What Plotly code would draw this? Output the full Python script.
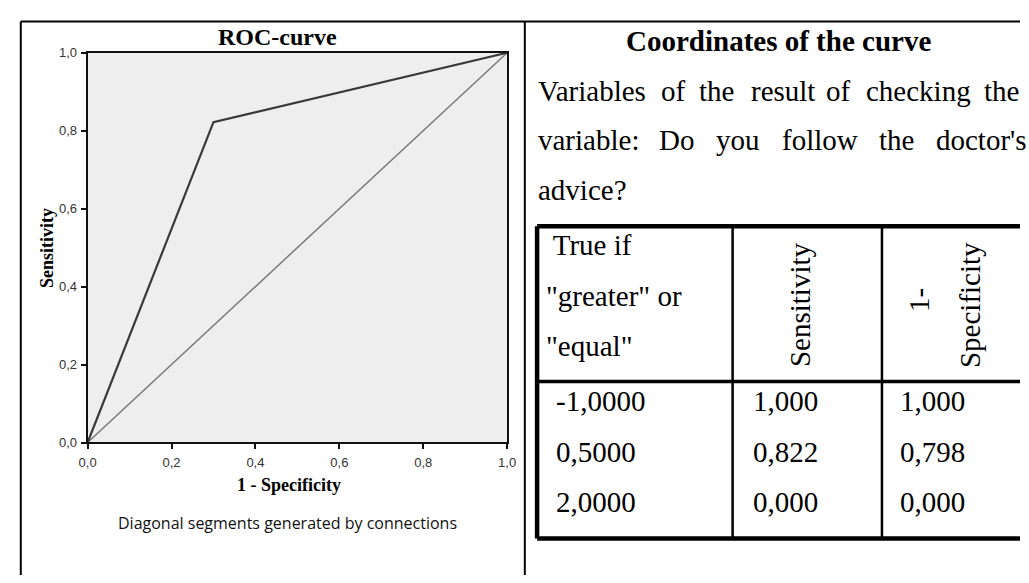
import plotly.graph_objects as go

# ---------------- data ----------------
roc_fpr = [0.0, 0.30, 1.0]          # 1 - Specificity
roc_tpr = [0.0, 0.822, 1.0]         # Sensitivity
diag_x = [0.0, 1.0]
diag_y = [0.0, 1.0]

tick_vals = [0.0, 0.2, 0.4, 0.6, 0.8, 1.0]
tick_text = ["0,0", "0,2", "0,4", "0,6", "0,8", "1,0"]

thresholds = [-1.0, 0.5, 2.0]
sensitivity = [1.000, 0.822, 0.000]
one_minus_spec = [1.000, 0.798, 0.000]

title_left = "ROC-curve"
x_title = "1 - Specificity"
y_title = "Sensitivity"
footnote = "Diagonal segments generated by connections"
title_right = "Coordinates of the curve"
para_lines = [
    ["Variables", "of", "the", "result", "of", "checking", "the"],
    ["variable:", "Do", "you", "follow", "the", "doctor's"],
    ["advice?"],
]
header_col1 = [" True if", "\"greater\" or", "\"equal\""]
header_col2 = "Sensitivity"
header_col3 = ["1-", "Specificity"]

# ---------------- layout helpers ----------------
W, H = 1029, 583
SERIF = "Liberation Serif"
SANS = "Liberation Sans"


def fx(x):
    return x / W


def fy(y):
    return 1 - y / H


def fmt(v, d):
    return f"{v:.{d}f}".replace(".", ",")


fig = go.Figure()
fig.add_trace(go.Scatter(x=diag_x, y=diag_y, mode="lines",
                         line=dict(color="#7a7a7a", width=1.5),
                         hoverinfo="skip", showlegend=False))
fig.add_trace(go.Scatter(x=roc_fpr, y=roc_tpr, mode="lines",
                         line=dict(color="#3a3a3a", width=2.2),
                         showlegend=False))

axis_common = dict(range=[0, 1], tickvals=tick_vals, ticktext=tick_text,
                   showline=True, linecolor="#111", linewidth=2, mirror=True,
                   ticks="outside", ticklen=5, tickwidth=2, tickcolor="#111",
                   showgrid=False, zeroline=False,
                   tickfont=dict(family=SANS, size=13, color="#333"))

fig.update_layout(
    width=W, height=H,
    margin=dict(l=0, r=0, t=0, b=0),
    paper_bgcolor="white",
    plot_bgcolor="#eeeeee",
    xaxis=dict(domain=[fx(80), fx(507)], ticklabelstandoff=2, **axis_common),
    yaxis=dict(domain=[fy(447), fy(47)], ticklabelstandoff=1, **axis_common),
)

shapes = []


def hline(x0, x1, y, w):
    shapes.append(dict(type="line", xref="paper", yref="paper",
                       x0=fx(x0), x1=fx(x1), y0=fy(y), y1=fy(y),
                       line=dict(color="black", width=w)))


def vline(x, y0, y1, w):
    shapes.append(dict(type="line", xref="paper", yref="paper",
                       x0=fx(x), x1=fx(x), y0=fy(y0), y1=fy(y1),
                       line=dict(color="black", width=w)))


# outer frame
hline(12, 1029, 15, 2)
vline(12, 15, 583, 2)
vline(525, 15, 583, 2)

# table grid
hline(537.5, 1029, 225, 4.5)
vline(537.5, 225, 545.5, 4.5)
hline(537.5, 1029, 545.5, 4.5)
hline(537.5, 1029, 384.5, 3.5)
vline(736.5, 225, 545.5, 2.5)
vline(888.5, 225, 545.5, 2.5)

fig.update_layout(shapes=shapes)

ann = []


def text(t, x, y, size, family=SERIF, bold=False, xanchor="center", angle=0, color="black"):
    if bold:
        t = f"<b>{t}</b>"
    ann.append(dict(text=t, x=fx(x), y=fy(y), xref="paper", yref="paper",
                    xanchor=xanchor, yanchor="middle", showarrow=False,
                    textangle=angle, borderpad=0, borderwidth=0,
                    font=dict(family=family, size=size, color=color)))


# left panel texts
text(title_left, 273, 30.5, 24, bold=True)
text(x_title, 284.5, 491, 18, bold=True)
text(y_title, 38, 247, 18, bold=True, angle=-90)
text(footnote, 283.5, 530, 16, family="Open Sans", color="#111")

# right panel texts
text(title_right, 783.5, 35, 29, bold=True)
word_x = [
    [538, 664, 702, 755, 832, 872, 992],
    [538, 662, 720, 787, 885, 944],
    [538],
]
line_y = [86, 137, 188]
for words, xs, yy in zip(para_lines, word_x, line_y):
    for w_, xx in zip(words, xs):
        text(w_, xx, yy, 29, xanchor="left")

# table header
for t, xx, yy in zip(header_col1, [547, 547, 547], [244, 297, 348]):
    text(t, xx, yy, 29, xanchor="left")
text(header_col2, 805, 305, 29, angle=-90)
text(header_col3[0], 926, 301, 29, angle=-90)
text(header_col3[1], 978, 306, 29, angle=-90)

# table body
row_y = [404, 457, 508]
for thr, se, sp, yy in zip(thresholds, sensitivity, one_minus_spec, row_y):
    text(fmt(thr, 4), 557, yy, 29, xanchor="left")
    text(fmt(se, 3), 757, yy, 29, xanchor="left")
    text(fmt(sp, 3), 907, yy, 29, xanchor="left")

fig.update_layout(annotations=ann)

fig.write_html(
    "out.html",
    config={"displayModeBar": False},
    post_script="document.body.style.margin='0';document.body.style.overflow='hidden';",
)
